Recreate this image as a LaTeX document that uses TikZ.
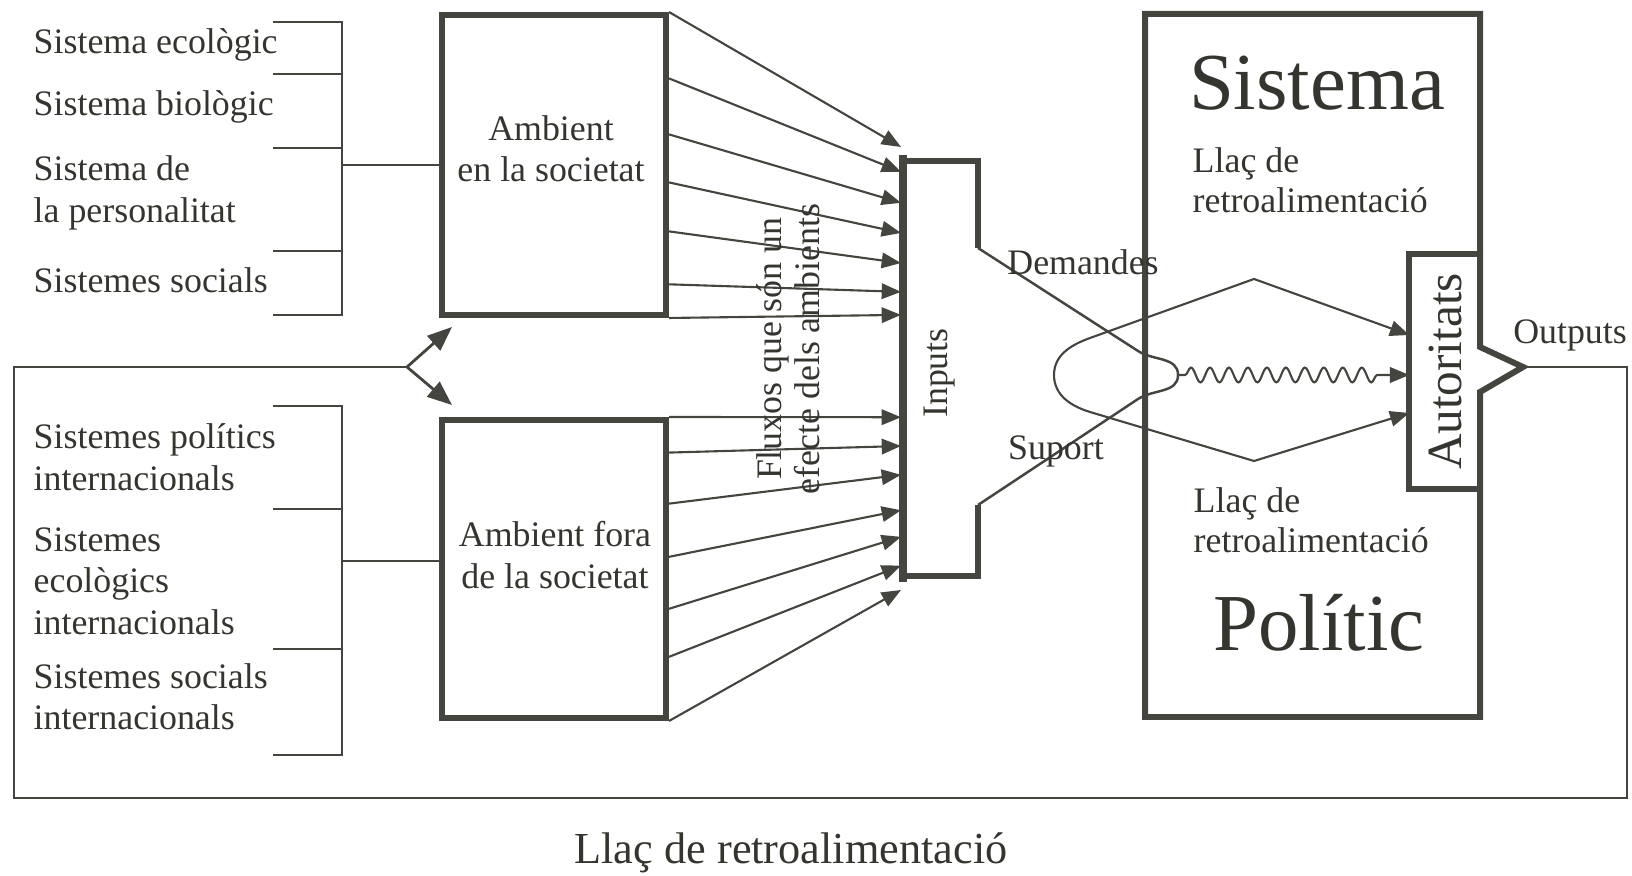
\documentclass[tikz,border=0pt]{standalone}
\usepackage{fontspec}
\usepackage{graphicx}
\setmainfont{Liberation Serif}
\usetikzlibrary{arrows.meta, calc, decorations.pathmorphing}

\definecolor{lc}{HTML}{45453F}
\definecolor{tc}{HTML}{35352F}

\tikzset{
  box/.style={draw=lc, line width=1.7pt, minimum width=2.24cm, minimum height=3cm, inner sep=0pt},
  thinln/.style={draw=lc, line width=0.7pt},
  flux/.style={draw=lc, line width=0.6pt, -{Triangle[length=5.5pt,width=4.4pt]}},
  lbl/.style={text=tc, font=\fontsize{10.2}{11.8}\selectfont, align=left, anchor=west, inner sep=0pt},
  txt/.style={text=tc, font=\fontsize{10.2}{11.8}\selectfont, align=center, inner sep=0pt},
}

\begin{document}
\begin{tikzpicture}
\useasboundingbox (0,0) rectangle (16.32,8.75);

% environment lists
\node[lbl] (eco) at (0.33,8.30) {Sistema ecològic};
\node[lbl] (bio) at (0.33,7.68) {Sistema biològic};
\node[lbl] (pers) at (0.33,6.82) {Sistema de\\la personalitat};
\node[lbl] (soc) at (0.33,5.95) {Sistemes socials};
\node[lbl] (pol) at (0.33,4.18) {Sistemes polítics\\internacionals};
\node[lbl] (ecoi) at (0.33,2.94) {Sistemes\\ecològics\\internacionals};
\node[lbl] (soci) at (0.33,1.78) {Sistemes socials\\internacionals};

% brackets
\draw[thinln] (2.73,8.53) -- (3.42,8.53) -- (3.42,5.60) -- (2.73,5.60);
\draw[thinln] (2.73,8.01) -- (3.42,8.01);
\draw[thinln] (2.73,7.27) -- (3.42,7.27);
\draw[thinln] (2.73,6.24) -- (3.42,6.24);
\draw[thinln] (2.73,4.69) -- (3.42,4.69) -- (3.42,1.20) -- (2.73,1.20);
\draw[thinln] (2.73,3.66) -- (3.42,3.66);
\draw[thinln] (2.73,2.26) -- (3.42,2.26);

% the two environments
\node[box] (amb1) at (5.54,7.10) {};
\node[box, minimum height=2.98cm] (amb2) at (5.54,3.06) {};
\node[txt] (amb1t) at (5.51,7.26) {Ambient\\en la societat};
\node[txt] (amb2t) at (5.55,3.20) {Ambient fora\\de la societat};
\coordinate (br1) at (3.42,7.10);
\coordinate (br2) at (3.42,3.14);
\draw[thinln] (br1) -- (amb1.west);
\draw[thinln] (br2) -- (br2 -| amb2.west);

% inputs
\coordinate (bartop) at (9.01,7.28);
\coordinate (barbot) at (9.01,2.85);
\coordinate (dem) at (9.78,6.27);
\coordinate (sup) at (9.78,3.70);
\draw[draw=lc, line width=2.2pt] (9.03,7.20) -- (9.03,2.93);
\draw[draw=lc, line width=1.5pt] (9.03,7.14) -- (9.78,7.14) -- (dem);
\draw[draw=lc, line width=1.5pt] (9.03,2.99) -- (9.78,2.99) -- (sup);
\node[txt, rotate=90] (inp) at (9.40,5.02) {Inputs};

\foreach \s/\t in {0/0, 0.217/0.056, 0.40/0.126, 0.557/0.194, 0.717/0.262, 0.89/0.327, 1/0.379}
  \draw[flux] ($(amb1.north east)!\s!(amb1.south east)$) -- ($(bartop)!\t!(barbot)$);
\foreach \s/\t in {0/0.61, 0.117/0.675, 0.285/0.74, 0.46/0.82, 0.631/0.88, 0.789/0.945, 1/1}
  \draw[flux] ($(amb2.north east)!\s!(amb2.south east)$) -- ($(bartop)!\t!(barbot)$);

\node[txt, rotate=90, font=\fontsize{10.2}{10.8}\selectfont] (fluxos) at (7.88,5.26) {Fluxos que són un\\efecte dels ambients};

% political system
\coordinate (outtip) at (15.23,5.08);
\draw[draw=lc, line width=1.7pt, line join=miter] (outtip) -- (14.80,4.83) -- (14.80,1.58) -- (11.45,1.58)
  -- (11.45,8.61) -- (14.80,8.61) -- (14.80,5.28) -- cycle;
\node[minimum width=0.70cm, minimum height=2.33cm, inner sep=0pt, text=tc,
  font=\fontsize{14}{16}\selectfont] (aut) at (14.45,5.035) {\rotatebox{90}{Autoritats}};
\draw[draw=lc, line width=1.7pt] (aut.north east) -- (aut.north west) -- (aut.south west) -- (aut.south east);

\node[text=tc, font=\fontsize{23}{27}\selectfont] (sist) at (13.17,7.92) {Sistema};
\node[text=tc, font=\fontsize{23}{27}\selectfont] (polt) at (13.19,2.52) {Polític};
\node[lbl, font=\fontsize{10.2}{11.4}\selectfont] (llac1) at (11.92,6.95) {Llaç de\\retroalimentació};
\node[lbl, font=\fontsize{10.2}{11.4}\selectfont] (llac2) at (11.93,3.55) {Llaç de\\retroalimentació};

% demands and support
\coordinate (lt) at (10.54,5.00);
\coordinate (rt) at (11.78,5.00);
\coordinate (tv) at (12.54,5.96);
\coordinate (bv) at (12.54,4.14);
\draw[thinln] (dem) -- (11.38,5.24) to[out=-33,in=90] (rt) to[out=-90,in=33] (11.38,4.76) -- (sup);
\draw[flux] (lt) to[out=90,in=200] (10.90,5.37) -- (tv) -- ([yshift=0.365cm]aut.west);
\draw[flux] (lt) to[out=-90,in=163] (10.90,4.63) -- (bv) -- ([yshift=-0.415cm]aut.west);
\draw[flux, decorate, decoration={snake, amplitude=2.1pt, segment length=5.4pt, pre length=2pt, post length=7pt}]
  (rt) -- (rt -| aut.west);
\node[txt] (demt) at (10.83,6.13) {Demandes};
\node[txt] (supt) at (10.56,4.24) {Suport};

% feedback loop
\coordinate (split) at (4.07,5.08);
\draw[thinln, line width=0.8pt] (outtip) -- (16.27,5.08) -- (16.27,0.77) -- (0.14,0.77) -- (0.14,5.08) -- (split);
\draw[flux, line width=0.8pt, -{Triangle[length=7pt,width=5.5pt]}] (split) -- ([xshift=0.13cm,yshift=-0.09cm]amb1.south west);
\draw[flux, line width=0.8pt, -{Triangle[length=7pt,width=5.5pt]}] (split) -- ([xshift=0.13cm,yshift=0.12cm]amb2.north west);
\node[txt] (outt) at (15.70,5.40) {Outputs};
\node[text=tc, font=\fontsize{12.6}{14}\selectfont] (cap) at (7.91,0.22) {Llaç de retroalimentació};
\end{tikzpicture}
\end{document}
